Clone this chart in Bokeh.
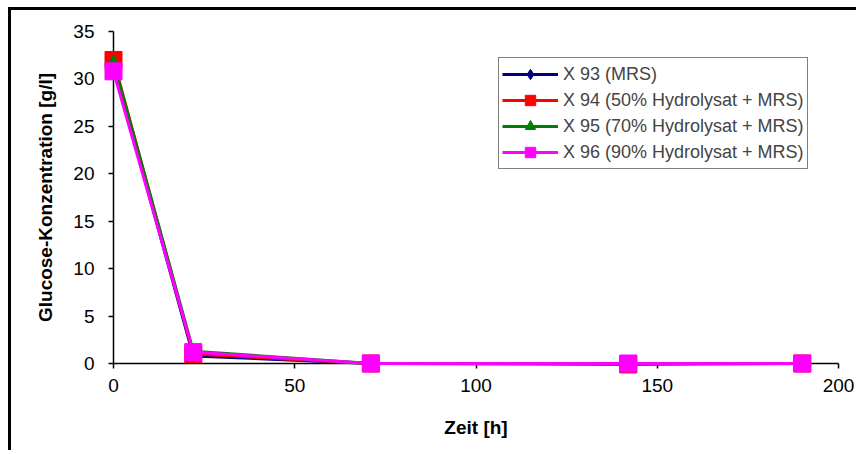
from bokeh.plotting import figure
from bokeh.models import Range1d, FixedTicker, Legend, LegendItem, ColumnDataSource
from bokeh.embed import file_html
from bokeh.resources import INLINE

# ---- data ----
zeit = [0, 22, 71, 142, 190]
x93 = [31.4, 0.8, 0.0, 0.0, 0.0]
x94 = [32.0, 1.0, 0.0, -0.1, 0.0]
x95 = [31.8, 1.3, 0.0, 0.0, 0.0]
x96 = [30.8, 1.2, 0.0, 0.0, 0.0]
labels = ["X 93 (MRS)", "X 94 (50% Hydrolysat + MRS)",
          "X 95 (70% Hydrolysat + MRS)", "X 96 (90% Hydrolysat + MRS)"]
x_ticks = [0, 50, 100, 150, 200]
y_ticks = [0, 5, 10, 15, 20, 25, 30, 35]

FONT = "Liberation Sans"

p = figure(width=848, height=443, output_backend="svg", toolbar_location=None,
           x_range=Range1d(0, 200), y_range=Range1d(0, 35),
           min_border_left=102, min_border_right=21, min_border_top=21, min_border_bottom=90)
p.styles = {"border-left": "3px solid black", "border-top": "3px solid black",
            "margin-left": "8px", "margin-top": "7px"}
p.outline_line_color = None
p.grid.visible = False
p.background_fill_color = "white"
p.border_fill_color = "white"

series = [
    (x93, "#000080", "diamond", 12),
    (x94, "#FF0000", "square", 17),
    (x95, "#008000", "triangle", 12),
    (x96, "#FF00FF", "square", 17),
]

nan = float("nan")
items = []
for (vals, col, mk, sz), lab in zip(series, labels):
    src = ColumnDataSource(dict(t=zeit, v=vals))
    p.line("t", "v", source=src, line_color=col, line_width=3, level="overlay")
    p.scatter("t", "v", source=src, marker=mk, size=sz, fill_color=col, line_color=col, level="overlay")
    # legend-only renderers (no visible data)
    esrc = ColumnDataSource(dict(t=[nan], v=[nan]))
    lr = p.line("t", "v", source=esrc, line_color=col, line_width=3)
    sr = p.scatter("t", "v", source=esrc, marker=mk, size=10, fill_color=col, line_color=col)
    items.append(LegendItem(label=lab, renderers=[lr, sr], index=0))

legend = Legend(items=items, location=(385, 194), padding=3, spacing=0, margin=0,
                glyph_width=56, glyph_height=26, label_height=25, label_standoff=5,
                label_text_font=FONT, label_text_font_size="18px",
                border_line_color="black", border_line_width=1,
                background_fill_color="white", background_fill_alpha=1)
p.add_layout(legend, "center")

for ax in (p.xaxis[0], p.yaxis[0]):
    ax.major_label_text_font = FONT
    ax.major_label_text_font_size = "19px"
    ax.major_label_text_color = "black"
    ax.axis_label_text_font = FONT
    ax.axis_label_text_font_size = "19px"
    ax.axis_label_text_font_style = "bold"
    ax.axis_label_text_color = "black"
    ax.axis_line_color = "black"
    ax.axis_line_width = 1.5
    ax.major_tick_line_color = "black"
    ax.major_tick_line_width = 1.5
    ax.major_tick_in = 0
    ax.major_tick_out = 5
    ax.minor_tick_line_color = None

p.xaxis.ticker = FixedTicker(ticks=x_ticks)
p.yaxis.ticker = FixedTicker(ticks=y_ticks)
p.xaxis.axis_label = "Zeit [h]"
p.yaxis.axis_label = "Glucose-Konzentration [g/l]"
p.xaxis.major_label_standoff = 10
p.yaxis.major_label_standoff = 14
p.xaxis.axis_label_standoff = 22
p.yaxis.axis_label_standoff = 14

html = file_html(p, INLINE)
html = html.replace("<head>", "<head><style>html,body{overflow:hidden;}</style>", 1)
open("out.html", "w").write(html)
